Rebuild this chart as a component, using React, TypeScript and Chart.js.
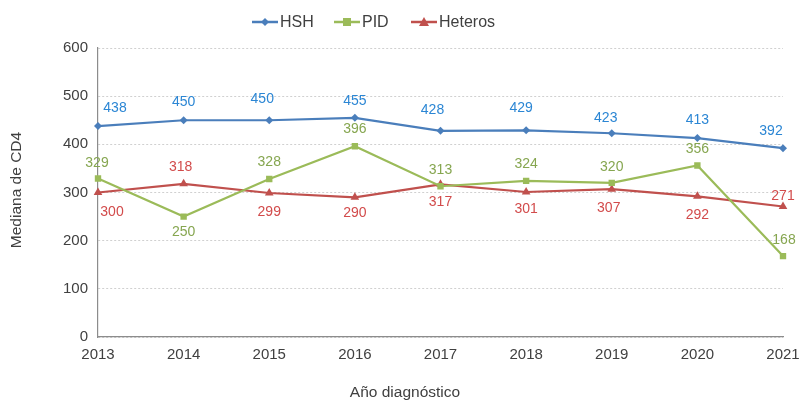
import React, { useEffect, useRef } from "react";
import { Chart, registerables } from "chart.js";

Chart.register(...registerables);

const years = ["2013", "2014", "2015", "2016", "2017", "2018", "2019", "2020", "2021"];
const hsh = [438, 450, 450, 455, 428, 429, 423, 413, 392];
const pid = [329, 250, 328, 396, 313, 324, 320, 356, 168];
const heteros = [300, 318, 299, 290, 317, 301, 307, 292, 271];

// label offsets (dx, dy) per point, in pixels
const hshLabelOffsets = [[17, -18], [0, -18], [-7, -21], [0, -17], [-8, -21], [-5, -22], [-6, -15], [0, -18], [-12, -17]];
const pidLabelOffsets = [[-1, -15], [0, 16], [0, -17], [0, -17], [0, -16], [0, -17], [0, -16], [0, -16], [1, -16]];
const hetLabelOffsets = [[14, 20], [-3, -17], [0, 19], [0, 16], [0, 18], [0, 17], [-3, 19], [0, 19], [0, -10]];

const FONT = "'Liberation Sans', Arial, sans-serif";

const HSH_COLOR = "#4A7EBB";
const PID_COLOR = "#9BBB59";
const HET_COLOR = "#C0504D";
const HSH_LABEL = "#2B86D4";
const PID_LABEL = "#86A650";
const HET_LABEL = "#D24B4B";

export default function App() {
  const ref = useRef<HTMLCanvasElement>(null);
  useEffect(() => {
    document.body.style.margin = "0";
    const labelPlugin = {
      id: "customLabels",
      afterDatasetsDraw(chart: any) {
        const ctx = chart.ctx;
        const sets = [
          { idx: 0, offs: hshLabelOffsets, color: HSH_LABEL, data: hsh },
          { idx: 1, offs: pidLabelOffsets, color: PID_LABEL, data: pid },
          { idx: 2, offs: hetLabelOffsets, color: HET_LABEL, data: heteros },
        ];
        ctx.save();
        ctx.font = `14px ${FONT}`;
        ctx.textAlign = "center";
        ctx.textBaseline = "middle";
        for (const s of sets) {
          const meta = chart.getDatasetMeta(s.idx);
          meta.data.forEach((pt: any, i: number) => {
            ctx.fillStyle = s.color;
            ctx.fillText(String(s.data[i]), pt.x + s.offs[i][0], pt.y + s.offs[i][1]);
          });
        }
        ctx.restore();
      },
      afterDraw(chart: any) {
        const ctx = chart.ctx;
        ctx.save();
        ctx.fillStyle = "#404040";
        ctx.font = `15.5px ${FONT}`;
        ctx.textAlign = "center";
        ctx.textBaseline = "middle";
        ctx.fillText("Año diagnóstico", 405, 393);
        ctx.translate(17, 190);
        ctx.rotate(-Math.PI / 2);
        ctx.fillText("Mediana de CD4", 0, 0);
        ctx.restore();

        ctx.save();
        const items = [
          { label: "HSH", color: HSH_COLOR, x: 252, style: "diamond" },
          { label: "PID", color: PID_COLOR, x: 334, style: "square" },
          { label: "Heteros", color: HET_COLOR, x: 411, style: "triangle" },
        ];
        const y = 22;
        for (const it of items) {
          ctx.strokeStyle = it.color;
          ctx.lineWidth = 2.5;
          ctx.beginPath();
          ctx.moveTo(it.x, y);
          ctx.lineTo(it.x + 26, y);
          ctx.stroke();
          ctx.fillStyle = it.color;
          const cx = it.x + 13;
          ctx.beginPath();
          if (it.style === "diamond") {
            ctx.moveTo(cx, y - 4); ctx.lineTo(cx + 4, y); ctx.lineTo(cx, y + 4); ctx.lineTo(cx - 4, y);
          } else if (it.style === "square") {
            ctx.rect(cx - 4, y - 4, 8, 8);
          } else {
            ctx.moveTo(cx, y - 5); ctx.lineTo(cx + 5, y + 4); ctx.lineTo(cx - 5, y + 4);
          }
          ctx.closePath();
          ctx.fill();
          ctx.fillStyle = "#404040";
          ctx.font = `16px ${FONT}`;
          ctx.textAlign = "left";
          ctx.textBaseline = "middle";
          ctx.fillText(it.label, it.x + 28, y + 1);
        }
        ctx.restore();
      },
    };

    const chart = new Chart(ref.current!, {
      type: "line",
      data: {
        labels: years,
        datasets: [
          {
            label: "HSH", data: hsh, borderColor: HSH_COLOR, backgroundColor: HSH_COLOR,
            borderWidth: 2.2, pointStyle: "rectRot", pointRadius: 4, pointBorderWidth: 0, tension: 0,
          },
          {
            label: "PID", data: pid, borderColor: PID_COLOR, backgroundColor: PID_COLOR,
            borderWidth: 2.2, pointStyle: "rect", pointRadius: 4.5, pointBorderWidth: 0, tension: 0,
          },
          {
            label: "Heteros", data: heteros, borderColor: HET_COLOR, backgroundColor: HET_COLOR,
            borderWidth: 2.2, pointStyle: "triangle", pointRadius: 5, pointBorderWidth: 0, tension: 0,
          },
        ],
      },
      options: {
        responsive: false,
        animation: false,
        layout: { padding: { top: 48, right: 17, left: 0, bottom: 0 } },
        plugins: { legend: { display: false }, tooltip: { enabled: false } },
        scales: {
          x: {
            offset: false,
            grid: { color: "rgba(0,0,0,0)", drawTicks: false },
            border: { display: true, color: "#8C8C8C", width: 1.2 },
            ticks: { color: "#404040", font: { size: 15, family: FONT }, padding: 9, maxRotation: 0, autoSkip: false },
            afterFit: (s: any) => { s.height = 64; s.paddingLeft = 0; s.paddingRight = 0; },
          },
          y: {
            min: 0, max: 600,
            grid: { color: "#D0D0D0", drawTicks: false },
            border: { display: true, color: "#8C8C8C", width: 1.2, dash: [2, 2] },
            ticks: { stepSize: 100, color: "#404040", font: { size: 15, family: FONT }, padding: 10 },
            afterFit: (s: any) => { s.width = 98; },
          },
        },
      },
      plugins: [labelPlugin],
    });
    return () => chart.destroy();
  }, []);
  return <canvas ref={ref} width={800} height={401} style={{ display: "block" }} />;
}
